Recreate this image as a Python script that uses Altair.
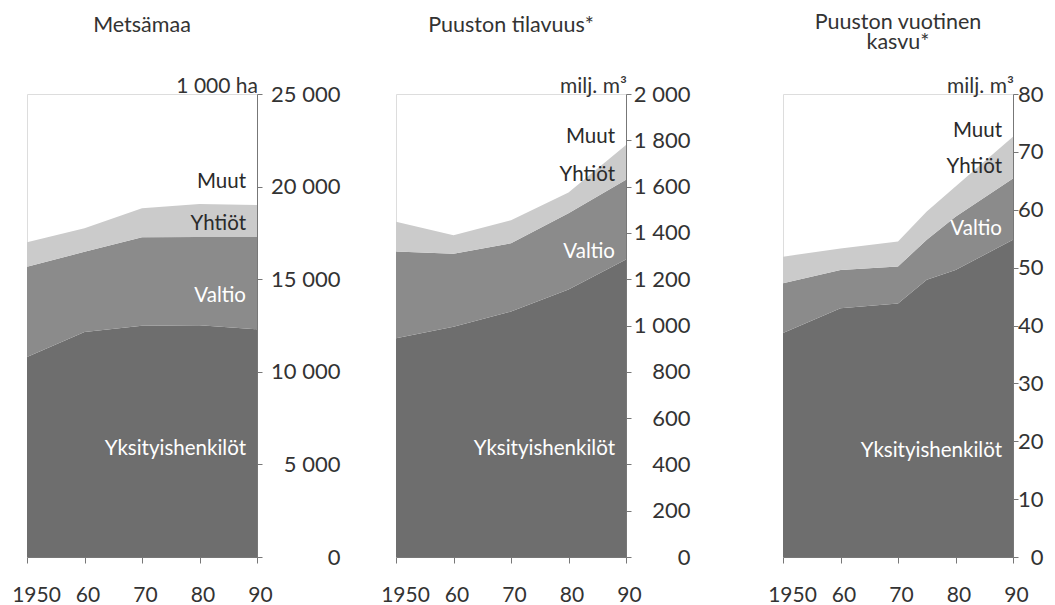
import altair as alt
import pandas as pd

FONT = "Lato"
OWNERS = ["Yksityishenkilöt", "Valtio", "Yhtiöt"]
COLORS = ["#6e6e6e", "#8b8b8b", "#cbcbcb"]

# Panel 1: Metsämaa (1 000 ha)
years_1 = [1950, 1960, 1970, 1980, 1990]
metsamaa_yksityis = [10800, 12150, 12480, 12520, 12300]
metsamaa_valtio = [4870, 4330, 4790, 4760, 4980]
metsamaa_yhtiot = [1330, 1270, 1560, 1780, 1730]

# Panel 2: Puuston tilavuus (milj. m3)
years_2 = [1950, 1960, 1970, 1980, 1990]
tilavuus_yksityis = [945, 995, 1060, 1155, 1285]
tilavuus_valtio = [375, 315, 295, 330, 345]
tilavuus_yhtiot = [128, 80, 100, 90, 150]

# Panel 3: Puuston vuotuinen kasvu (milj. m3)
years_3 = [1950, 1960, 1970, 1975, 1980, 1990]
kasvu_yksityis = [38.7, 43.0, 43.8, 47.9, 49.6, 54.8]
kasvu_valtio = [8.6, 6.6, 6.4, 6.9, 9.2, 10.6]
kasvu_yhtiot = [4.6, 3.7, 4.3, 4.9, 5.2, 7.2]

x_ticks = [1950, 1960, 1970, 1980, 1990]

# label anchor values (y) for inside labels: Muut, Yhtiöt, Valtio, Yksityishenkilöt
labels_1 = [19920, 17660, 13770, 5510]
labels_2 = [1788, 1624, 1292, 441]
labels_3 = [72.6, 66.3, 55.6, 17.3]


def panel(years, yks, val, yht, ymax, ystep, unit, title, title_offset,
          lab_vals, ylab_pad):
    rows = []
    for i, y in enumerate(years):
        for k, (name, arr) in enumerate(zip(OWNERS, [yks, val, yht])):
            rows.append({"year": y, "owner": name, "value": arr[i], "ord": k})
    df = pd.DataFrame(rows)

    xenc = alt.X(
        "year:Q",
        scale=alt.Scale(domain=[1950, 1990], nice=False, zero=False),
        axis=alt.Axis(
            values=x_ticks, title=None, grid=False, labelFlush=False,
            labelExpr="datum.value == 1950 ? '1950' : format(datum.value % 100, 'd')",
            labelFont=FONT, labelFontSize=21, labelColor="#333333",
            labelPadding=21, tickSize=6, tickColor="#777777",
            domainColor="#777777",
            labelOffset={"condition": {"test": "datum.value == 1950", "value": 9},
                         "value": 3},
        ),
    )
    yvals = list(range(0, int(ymax) + 1, int(ystep)))
    yenc = alt.Y(
        "value:Q",
        stack="zero",
        scale=alt.Scale(domain=[0, ymax], nice=False),
        axis=alt.Axis(
            orient="right", values=yvals, title=None, grid=False,
            labelExpr="replace(format(datum.value, ','), ',', ' ')",
            labelFont=FONT, labelFontSize=22, labelColor="#333333",
            labelAlign="right", labelPadding=ylab_pad, labelOverlap=False,
            tickSize=5, tickColor="#777777", domainColor="#777777",
        ),
    )
    area = alt.Chart(df).mark_area(interpolate="linear").encode(
        x=xenc,
        y=yenc,
        color=alt.Color("owner:N", scale=alt.Scale(domain=OWNERS, range=COLORS),
                        legend=None),
        order=alt.Order("ord:Q"),
    )

    dark = pd.DataFrame({"t": ["Muut", "Yhtiöt"], "v": lab_vals[:2]})
    light = pd.DataFrame({"t": ["Valtio", "Yksityishenkilöt"], "v": lab_vals[2:]})
    txt_dark = alt.Chart(dark).mark_text(
        align="right", baseline="alphabetic", dx=-11, font=FONT, fontSize=20.5,
        color="#2a2a2a",
    ).encode(x=alt.datum(1990), y=alt.Y("v:Q"), text="t:N")
    txt_light = alt.Chart(light).mark_text(
        align="right", baseline="alphabetic", dx=-11, font=FONT, fontSize=20.5,
        color="#ffffff",
    ).encode(x=alt.datum(1990), y=alt.Y("v:Q"), text="t:N")
    unit_txt = alt.Chart(pd.DataFrame({"t": [unit]})).mark_text(
        align="right", baseline="alphabetic", dx=1, dy=-1, font=FONT,
        fontSize=21, color="#333333",
    ).encode(x=alt.datum(1990), y=alt.datum(ymax), text="t:N")

    return alt.layer(area, txt_dark, txt_light, unit_txt).properties(
        width=230, height=463,
        title=alt.TitleParams(
            text=title, font=FONT, fontSize=21.5, fontWeight="normal",
            color="#333333", anchor="middle", frame="group",
            baseline="bottom", offset=title_offset, lineHeight=20,
        ),
    )


p1 = panel(years_1, metsamaa_yksityis, metsamaa_valtio, metsamaa_yhtiot,
           25000, 5000, "1 000 ha", "Metsämaa", 18, labels_1, 78)
p2 = panel(years_2, tilavuus_yksityis, tilavuus_valtio, tilavuus_yhtiot,
           2000, 200, "milj. m³", "Puuston tilavuus*", 18, labels_2, 59)
p3 = panel(years_3, kasvu_yksityis, kasvu_valtio, kasvu_yhtiot,
           80, 10, "milj. m³", ["Puuston vuotinen", "kasvu*"], 1, labels_3, 25)

inner = alt.hconcat(p1, p2, spacing=39)
chart = alt.hconcat(inner, p3, spacing=76).properties(
    padding={"left": 3, "top": 3, "right": 0, "bottom": 0}
).configure_view(stroke="#777777", strokeWidth=1).configure(background="white")

chart.save("out.html", embed_options={"renderer": "svg", "actions": False})
